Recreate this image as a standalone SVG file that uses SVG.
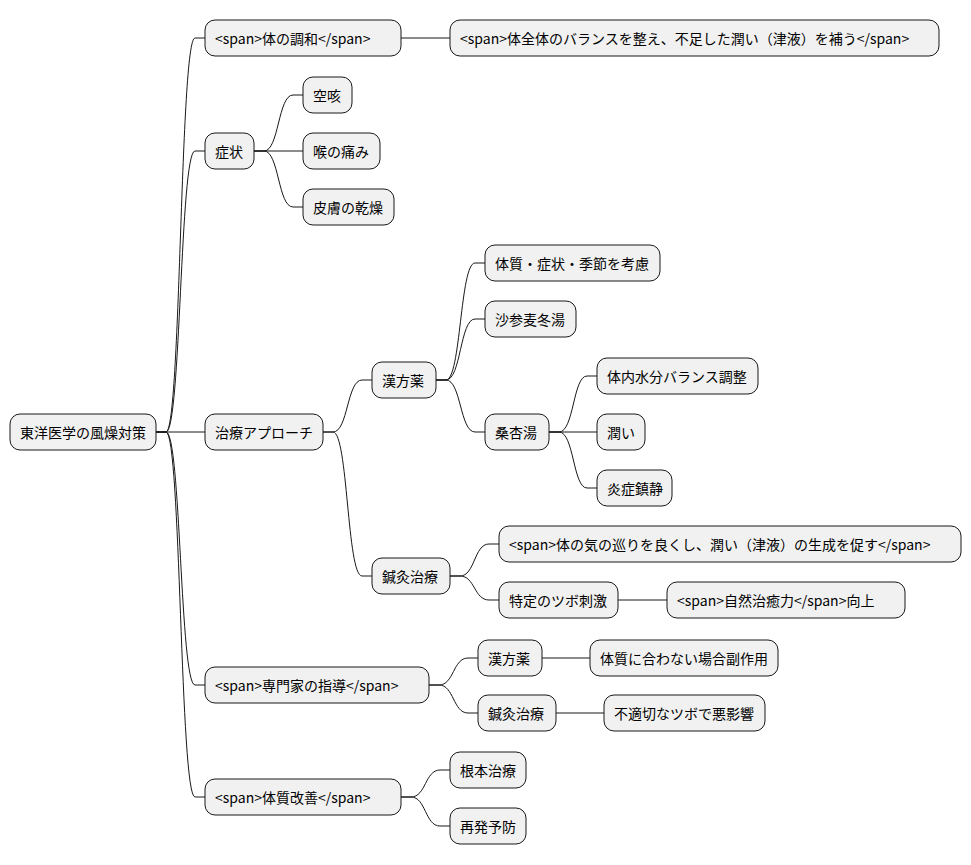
<svg xmlns="http://www.w3.org/2000/svg" width="971" height="865" viewBox="0 0 971 865">
<style>
rect{fill:#F1F1F1;stroke:#181818;stroke-width:1;}
text{font-family:"Noto Sans CJK JP","Liberation Sans",sans-serif;font-size:14px;fill:#000;dominant-baseline:central;}
path{fill:none;stroke:#181818;stroke-width:1;}
</style>
<rect x="0" y="0" width="971" height="865" style="fill:#fff;stroke:none"/>
<g id="connectors">
<path d="M156,432 L166,432 C181,432 180,38 195,38 L205,38"/>
<path d="M156,432 L166,432 C181,432 180,151 195,151 L205,151"/>
<path d="M156,432 L205,432"/>
<path d="M156,432 L166,432 C181,432 180,685 195,685 L205,685"/>
<path d="M156,432 L166,432 C181,432 180,797 195,797 L205,797"/>
<path d="M401,38 L450,38"/>
<path d="M254,151 L264,151 C279,151 278,95 293,95 L303,95"/>
<path d="M254,151 L303,151"/>
<path d="M254,151 L264,151 C279,151 278,207 293,207 L303,207"/>
<path d="M323,432 L333,432 C348,432 347,380 362,380 L372,380"/>
<path d="M323,432 L333,432 C348,432 347,576 362,576 L372,576"/>
<path d="M436,380 L446,380 C461,380 460,263 475,263 L485,263"/>
<path d="M436,380 L446,380 C461,380 460,319 475,319 L485,319"/>
<path d="M436,380 L446,380 C461,380 460,432 475,432 L485,432"/>
<path d="M549,432 L559,432 C574,432 573,376 587,376 L597,376"/>
<path d="M549,432 L597,432"/>
<path d="M549,432 L559,432 C574,432 573,488 587,488 L597,488"/>
<path d="M450,576 L460,576 C475,576 474,544 489,544 L499,544"/>
<path d="M450,576 L460,576 C475,576 474,600 489,600 L499,600"/>
<path d="M618,600 L667,600"/>
<path d="M429,685 L439,685 C454,685 453,658 468,658 L478,658"/>
<path d="M429,685 L439,685 C454,685 453,713 468,713 L478,713"/>
<path d="M542,658 L590,658"/>
<path d="M556,713 L604,713"/>
<path d="M401,797 L411,797 C426,797 425,770 440,770 L450,770"/>
<path d="M401,797 L411,797 C426,797 425,826 440,826 L450,826"/>
</g>
<g id="n0"><rect x="10" y="414" width="146" height="36" rx="10"/><text x="20" y="432">東洋医学の風燥対策</text></g>
<g id="n1"><rect x="205" y="20" width="196" height="36" rx="10"/><text x="215" y="38">&lt;span&gt;体の調和&lt;/span&gt;</text></g>
<g id="n2"><rect x="450" y="20" width="489" height="36" rx="10"/><text x="460" y="38">&lt;span&gt;体全体のバランスを整え、不足した潤い（津液）を補う&lt;/span&gt;</text></g>
<g id="n3"><rect x="205" y="133" width="49" height="36" rx="10"/><text x="215" y="151">症状</text></g>
<g id="n4"><rect x="303" y="77" width="49" height="36" rx="10"/><text x="313" y="95">空咳</text></g>
<g id="n5"><rect x="303" y="133" width="77" height="36" rx="10"/><text x="313" y="151">喉の痛み</text></g>
<g id="n6"><rect x="303" y="189" width="91" height="36" rx="10"/><text x="313" y="207">皮膚の乾燥</text></g>
<g id="n7"><rect x="205" y="414" width="118" height="36" rx="10"/><text x="215" y="432">治療アプローチ</text></g>
<g id="n8"><rect x="372" y="362" width="64" height="36" rx="10"/><text x="382" y="380">漢方薬</text></g>
<g id="n9"><rect x="485" y="245" width="175" height="36" rx="10"/><text x="495" y="263">体質・症状・季節を考慮</text></g>
<g id="n10"><rect x="485" y="301" width="91" height="36" rx="10"/><text x="495" y="319">沙参麦冬湯</text></g>
<g id="n11"><rect x="485" y="414" width="64" height="36" rx="10"/><text x="495" y="432">桑杏湯</text></g>
<g id="n12"><rect x="597" y="358" width="161" height="36" rx="10"/><text x="607" y="376">体内水分バランス調整</text></g>
<g id="n13"><rect x="597" y="414" width="48" height="36" rx="10"/><text x="607" y="432">潤い</text></g>
<g id="n14"><rect x="597" y="470" width="75" height="36" rx="10"/><text x="607" y="488">炎症鎮静</text></g>
<g id="n15"><rect x="372" y="558" width="78" height="36" rx="10"/><text x="382" y="576">鍼灸治療</text></g>
<g id="n16"><rect x="499" y="526" width="462" height="36" rx="10"/><text x="509" y="544">&lt;span&gt;体の気の巡りを良くし、潤い（津液）の生成を促す&lt;/span&gt;</text></g>
<g id="n17"><rect x="499" y="582" width="119" height="36" rx="10"/><text x="509" y="600">特定のツボ刺激</text></g>
<g id="n18"><rect x="667" y="582" width="238" height="36" rx="10"/><text x="677" y="600">&lt;span&gt;自然治癒力&lt;/span&gt;向上</text></g>
<g id="n19"><rect x="205" y="667" width="224" height="36" rx="10"/><text x="215" y="685">&lt;span&gt;専門家の指導&lt;/span&gt;</text></g>
<g id="n20"><rect x="478" y="640" width="64" height="36" rx="10"/><text x="488" y="658">漢方薬</text></g>
<g id="n21"><rect x="590" y="640" width="188" height="36" rx="10"/><text x="600" y="658">体質に合わない場合副作用</text></g>
<g id="n22"><rect x="478" y="695" width="78" height="36" rx="10"/><text x="488" y="713">鍼灸治療</text></g>
<g id="n23"><rect x="604" y="695" width="161" height="36" rx="10"/><text x="614" y="713">不適切なツボで悪影響</text></g>
<g id="n24"><rect x="205" y="779" width="196" height="36" rx="10"/><text x="215" y="797">&lt;span&gt;体質改善&lt;/span&gt;</text></g>
<g id="n25"><rect x="450" y="752" width="76" height="36" rx="10"/><text x="460" y="770">根本治療</text></g>
<g id="n26"><rect x="450" y="808" width="76" height="36" rx="10"/><text x="460" y="826">再発予防</text></g>
</svg>
